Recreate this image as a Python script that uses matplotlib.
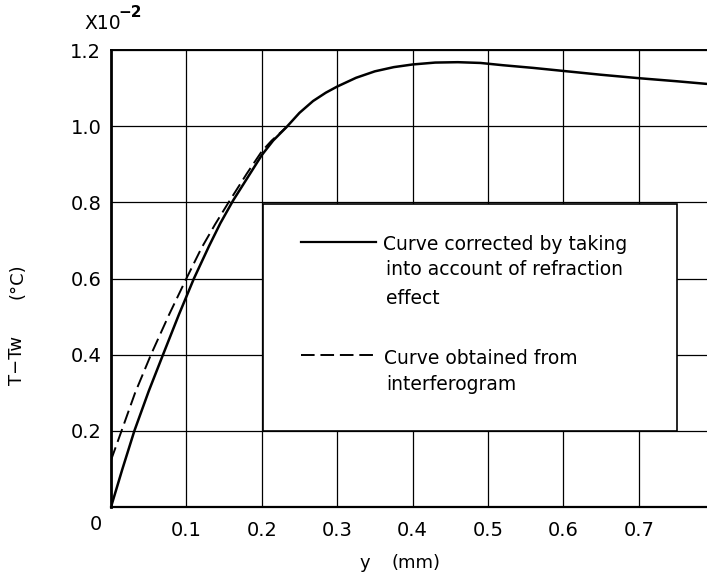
import matplotlib
matplotlib.use("Agg")
import matplotlib.pyplot as plt
from matplotlib.patches import Rectangle

# ---- data ----
solid_x = [0.0, 0.015, 0.031, 0.050, 0.069, 0.090, 0.110, 0.130, 0.145, 0.162,
           0.185, 0.200, 0.215, 0.233, 0.250, 0.268, 0.285, 0.300, 0.325,
           0.350, 0.375, 0.400, 0.430, 0.460, 0.490, 0.520, 0.560, 0.600,
           0.650, 0.700, 0.750, 0.790]
solid_y = [0.0, 0.099, 0.200, 0.304, 0.400, 0.505, 0.600, 0.685, 0.745, 0.805,
           0.877, 0.924, 0.962, 0.998, 1.035, 1.066, 1.088, 1.104, 1.127,
           1.144, 1.155, 1.162, 1.167, 1.168, 1.166, 1.160, 1.153, 1.145,
           1.135, 1.126, 1.118, 1.111]

dash_x = [0.0, 0.014, 0.032, 0.053, 0.077, 0.100, 0.120, 0.138, 0.156, 0.180,
          0.200, 0.213, 0.233]
dash_y = [0.123, 0.200, 0.300, 0.400, 0.505, 0.600, 0.680, 0.742, 0.800, 0.875,
          0.934, 0.962, 0.998]

x_ticks = [0.1, 0.2, 0.3, 0.4, 0.5, 0.6, 0.7]
x_tick_labels = ["0.1", "0.2", "0.3", "0.4", "0.5", "0.6", "0.7"]
y_ticks = [0.2, 0.4, 0.6, 0.8, 1.0, 1.2]
y_tick_labels = ["0.2", "0.4", "0.6", "0.8", "1.0", "1.2"]

legend_solid = ["Curve corrected by taking", "into account of refraction", "effect"]
legend_dash = ["Curve obtained from", "interferogram"]

W, H = 707, 574
fig = plt.figure(figsize=(W / 100, H / 100), dpi=100)
plt.rcParams['font.family'] = ['DejaVu Sans']

x0, x1, ytop, ybot = 111, 707, 50, 507
ax = fig.add_axes([x0 / W, (H - ybot) / H, (x1 - x0) / W, (ybot - ytop) / H])
ax.set_xlim(0, 0.7905)
ax.set_ylim(0, 1.2)

# grid
for xv in x_ticks:
    ax.axvline(xv, color="black", lw=0.9, zorder=1)
for yv in y_ticks:
    ax.axhline(yv, color="black", lw=0.9, zorder=1)

ax.spines["right"].set_visible(False)
ax.spines["left"].set_linewidth(2.0)
ax.spines["bottom"].set_linewidth(1.6)
ax.spines["top"].set_linewidth(1.4)

ax.set_xticks(x_ticks)
ax.set_xticklabels(x_tick_labels)
ax.set_yticks(y_ticks)
ax.set_yticklabels(y_tick_labels)
ax.tick_params(axis="both", length=0, labelsize=14)
ax.tick_params(axis="x", pad=10)
ax.tick_params(axis="y", pad=7)

# "0" label at the origin
ax.text(-15 / 596, -18 / 457, "0", transform=ax.transAxes, fontsize=14,
        ha="center", va="center")

# curves
ax.plot(solid_x, solid_y, color="black", lw=1.8, zorder=4, solid_capstyle="round",
        solid_joinstyle="round")
ax.plot(dash_x, dash_y, color="black", lw=1.4, ls=(0, (7, 3)), zorder=4)

# legend box
ax.add_patch(Rectangle((0.2016, 0.199), 0.549, 0.596, facecolor="white",
                       edgecolor="black", lw=1.2, zorder=3))

def afx(px):
    return (px - x0) / (x1 - x0)

def afy(py):
    return (ybot - py) / (ybot - ytop)

ax.plot([afx(301), afx(376)], [afy(242), afy(242)], color="black", lw=1.6,
        transform=ax.transAxes, zorder=5)
ax.plot([afx(301), afx(375)], [afy(355), afy(355)], color="black", lw=1.4,
        ls=(0, (7, 3)), transform=ax.transAxes, zorder=5)

fs_leg = 13.5
ax.text(afx(383), afy(250), legend_solid[0], transform=ax.transAxes,
        fontsize=fs_leg, va="baseline", ha="left", zorder=5)
ax.text(afx(386), afy(275), legend_solid[1], transform=ax.transAxes,
        fontsize=fs_leg, va="baseline", ha="left", zorder=5)
ax.text(afx(386), afy(304), legend_solid[2], transform=ax.transAxes,
        fontsize=fs_leg, va="baseline", ha="left", zorder=5)
ax.text(afx(384), afy(364), legend_dash[0], transform=ax.transAxes,
        fontsize=fs_leg, va="baseline", ha="left", zorder=5)
ax.text(afx(386), afy(390), legend_dash[1], transform=ax.transAxes,
        fontsize=fs_leg, va="baseline", ha="left", zorder=5)

# axis labels
fig.text(17 / W, 1 - 360 / H, "T\u2212Tw", rotation=90, fontsize=13,
         ha="center", va="center")
fig.text(17 / W, 1 - 281 / H, "(°C)", rotation=90, fontsize=13,
         ha="center", va="center")
fig.text(365 / W, 1 - 568 / H, "y", fontsize=13, ha="center", va="baseline")
fig.text(416 / W, 1 - 568 / H, "(mm)", fontsize=13, ha="center", va="baseline")

# multiplier
fig.text(84 / W, 1 - 29 / H, "X10", fontsize=13.5, ha="left", va="baseline")
fig.text(118 / W, 1 - 17 / H, "\u22122", fontsize=11, ha="left", va="baseline",
         fontweight="bold")

fig.savefig("out.png", dpi=100)
